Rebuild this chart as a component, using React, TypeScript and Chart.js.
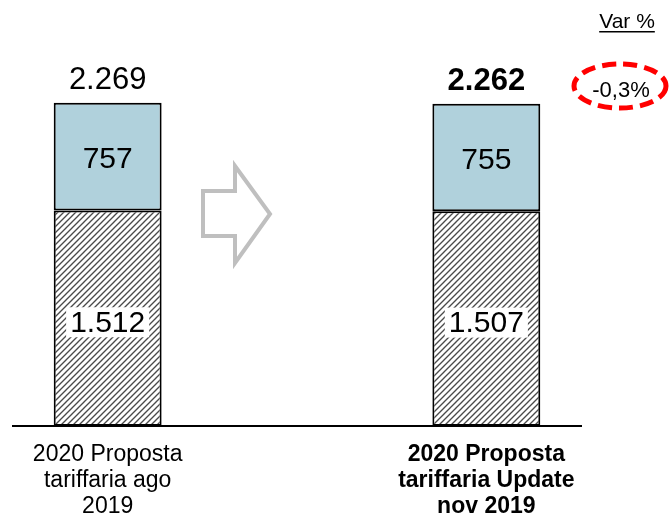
import React, { useEffect, useRef } from "react";
import { Chart, registerables } from "chart.js";

Chart.register(...registerables);

const categories: string[][] = [
  ["2020 Proposta", "tariffaria ago", "2019"],
  [""],
  ["2020 Proposta", "tariffaria Update", "nov 2019"],
];
const baseValues: (number | null)[] = [1512, null, 1507];
const topValues: (number | null)[] = [757, null, 755];
const totals: (number | null)[] = [2269, null, 2262];
const baseLabels = ["1.512", "", "1.507"];
const topLabels = ["757", "", "755"];
const totalLabels = ["2.269", "", "2.262"];
const varTitle = "Var %";
const varValue = "-0,3%";

const FONT = "'Liberation Sans', Arial, sans-serif";

function makeHatch(): CanvasPattern | string {
  const c = document.createElement("canvas");
  const s = 6;
  c.width = s;
  c.height = s;
  const g = c.getContext("2d");
  if (!g) return "#888";
  g.fillStyle = "#ffffff";
  g.fillRect(0, 0, s, s);
  g.strokeStyle = "#4a4a4a";
  g.lineWidth = 1.35;
  g.beginPath();
  g.moveTo(-1, s + 1);
  g.lineTo(s + 1, -1);
  g.moveTo(-1, 1);
  g.lineTo(1, -1);
  g.moveTo(s - 1, s + 1);
  g.lineTo(s + 1, s - 1);
  g.stroke();
  const p = g.createPattern(c, "repeat");
  return p || "#888";
}

const decorPlugin = {
  id: "decor",
  afterDatasetsDraw(chart: any) {
    const ctx: CanvasRenderingContext2D = chart.ctx;
    const baseMeta = chart.getDatasetMeta(0);
    const topMeta = chart.getDatasetMeta(1);
    ctx.save();
    ctx.textAlign = "center";
    ctx.textBaseline = "middle";
    for (let i = 0; i < categories.length; i++) {
      if (totals[i] == null) continue;
      const b = baseMeta.data[i];
      const t = topMeta.data[i];
      const bold = i === 2;
      const by = (b.y + b.base) / 2 + 4;
      ctx.font = `30px ${FONT}`;
      const w = ctx.measureText(baseLabels[i]).width;
      ctx.fillStyle = "#ffffff";
      ctx.fillRect(b.x - w / 2 - 4, by - 15, w + 8, 30);
      ctx.fillStyle = "#000000";
      ctx.fillText(baseLabels[i], b.x, by + 1);
      ctx.fillText(topLabels[i], t.x, (t.y + t.base) / 2 + 3);
      ctx.font = `${bold ? "bold " : ""}31px ${FONT}`;
      ctx.fillText(totalLabels[i], t.x, t.y - 22);
    }
    // arrow
    ctx.beginPath();
    ctx.moveTo(203, 191);
    ctx.lineTo(235, 191);
    ctx.lineTo(235, 166);
    ctx.lineTo(270, 214);
    ctx.lineTo(235, 263);
    ctx.lineTo(235, 236);
    ctx.lineTo(203, 236);
    ctx.closePath();
    ctx.strokeStyle = "#bfbfbf";
    ctx.lineWidth = 4;
    ctx.lineJoin = "miter";
    ctx.stroke();
    // Var %
    ctx.font = `21px ${FONT}`;
    ctx.fillStyle = "#000";
    ctx.textBaseline = "alphabetic";
    const vw = ctx.measureText(varTitle).width;
    ctx.fillText(varTitle, 627, 28);
    ctx.fillRect(627 - vw / 2, 31, vw, 1.5);
    // ellipse
    ctx.beginPath();
    ctx.ellipse(620, 86, 46, 22, 0, 0, Math.PI * 2);
    ctx.strokeStyle = "#ff0000";
    ctx.lineWidth = 5;
    ctx.setLineDash([14, 7]);
    ctx.stroke();
    ctx.setLineDash([]);
    ctx.font = `22px ${FONT}`;
    ctx.textBaseline = "middle";
    ctx.fillText(varValue, 621, 91);
    ctx.restore();
  },
};

export default function App() {
  const ref = useRef<HTMLCanvasElement | null>(null);
  useEffect(() => {
    if (!ref.current) return;
    const hatch = makeHatch();
    const chart = new Chart(ref.current, {
      type: "bar",
      data: {
        labels: categories,
        datasets: [
          {
            data: baseValues,
            backgroundColor: hatch as any,
            borderColor: "#000",
            borderWidth: 2,
            borderSkipped: false,
            barPercentage: 0.57,
            categoryPercentage: 1,
          },
          {
            data: topValues,
            backgroundColor: "#b0d1dc",
            borderColor: "#000",
            borderWidth: 2,
            borderSkipped: false,
            barPercentage: 0.57,
            categoryPercentage: 1,
          },
        ],
      },
      options: {
        animation: false,
        responsive: false,
        maintainAspectRatio: false,
        layout: { padding: { left: 13, right: 88, top: 27, bottom: 0 } },
        plugins: { legend: { display: false }, tooltip: { enabled: false } },
        scales: {
          x: {
            stacked: true,
            grid: { display: false },
            border: { display: true, color: "#000", width: 2 },
            afterFit: (scale: any) => {
              scale.height = 92;
            },
            ticks: {
              color: "#000",
              padding: 7,
              maxRotation: 0,
              autoSkip: false,
              font: (c: any) => ({
                family: FONT,
                size: 23,
                lineHeight: 1.15,
                weight: c.index === 2 ? "bold" : "normal",
              }),
            },
          },
          y: { stacked: true, display: false, min: 0, max: 2800 },
        },
      },
      plugins: [decorPlugin],
    });
    return () => chart.destroy();
  }, []);
  return (
    <div style={{ position: "fixed", left: 0, top: 0, width: 669, height: 518, background: "#fff" }}>
      <canvas ref={ref} width={669} height={518} style={{ width: 669, height: 518 }} />
    </div>
  );
}
